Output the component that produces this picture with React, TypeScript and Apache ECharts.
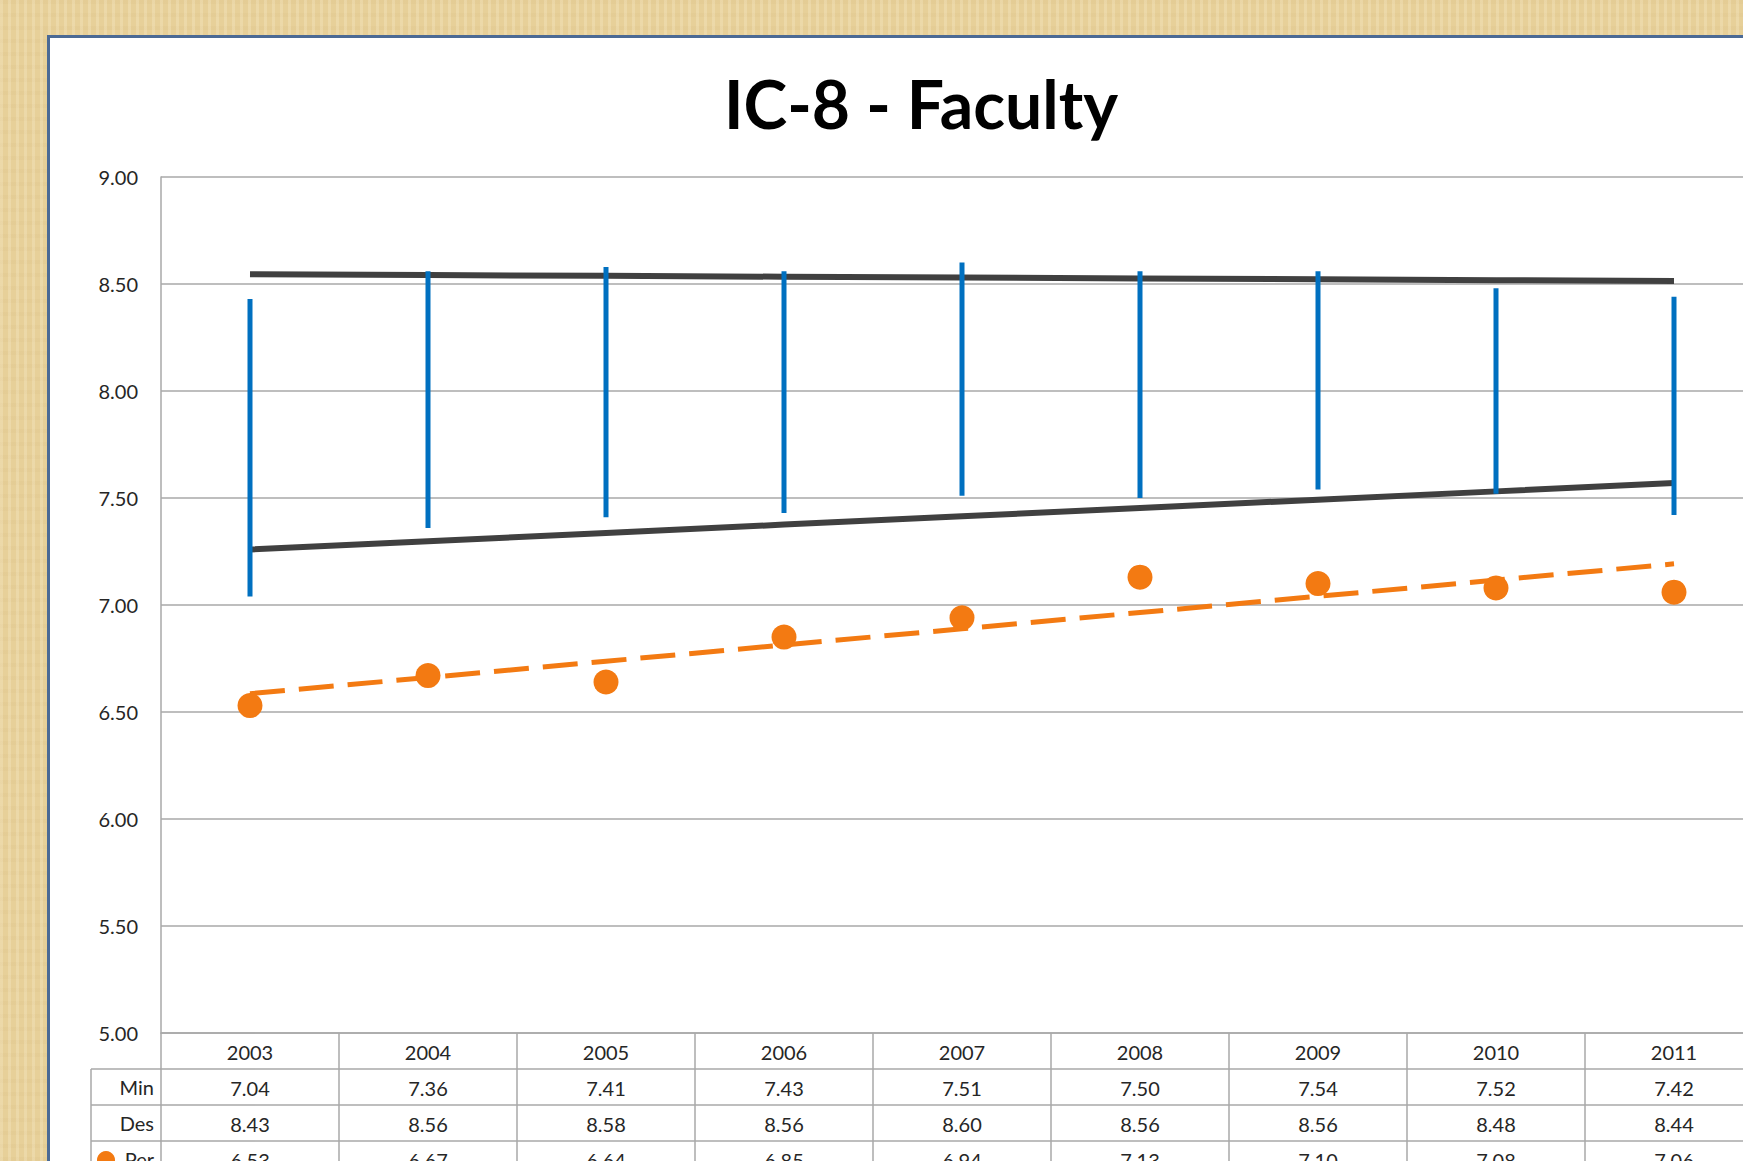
import React, { useEffect, useRef } from "react";
import * as echarts from "echarts";

const years = ["2003", "2004", "2005", "2006", "2007", "2008", "2009", "2010", "2011"];
const minVals = [7.04, 7.36, 7.41, 7.43, 7.51, 7.5, 7.54, 7.52, 7.42];
const desVals = [8.43, 8.56, 8.58, 8.56, 8.6, 8.56, 8.56, 8.48, 8.44];
const perVals = [6.53, 6.67, 6.64, 6.85, 6.94, 7.13, 7.1, 7.08, 7.06];
const rowNames = ["Min", "Des", "Per"];
const yMin = 5;
const yMax = 9;
const yStep = 0.5;
const titleText = "IC-8 - Faculty";

// least-squares linear trend (Excel-style trendline) of a series
function linearTrend(vals: number[]): number[] {
  const n = vals.length;
  const mx = (n - 1) / 2;
  const my = vals.reduce((a, b) => a + b, 0) / n;
  let sxy = 0;
  let sxx = 0;
  vals.forEach((v, i) => {
    sxy += (i - mx) * (v - my);
    sxx += (i - mx) * (i - mx);
  });
  const slope = sxy / sxx;
  return vals.map((_, i) => my + slope * (i - mx));
}

const FONT = "Lato";
const TEXT = "#262626";
const GRID = "#A8A8A8";
const ORANGE = "#F37A12";
const BLUE = "#0070C0";
const DARK = "#404040";

const GRID_LEFT = 161;
const GRID_TOP = 177;
const CAT_W = 178;
const PLOT_H = 856;
const ROW_H = 36;
const CHART_W = 1800;
const CHART_H = 1161;

function tableAxis(idx: number, fmt: (v: string, i: number) => string) {
  return {
    type: "category",
    data: years,
    position: "bottom",
    offset: idx * ROW_H,
    boundaryGap: true,
    axisLine: { show: true, onZero: false, lineStyle: { color: GRID, width: 1.5 } },
    axisTick: { show: true, interval: 0, length: ROW_H, lineStyle: { color: GRID, width: 1.5 } },
    axisLabel: {
      show: true,
      interval: 0,
      margin: 9,
      color: TEXT,
      fontFamily: FONT,
      fontSize: 20,
      formatter: fmt,
    },
    splitLine: { show: false },
  };
}

export default function App() {
  const ref = useRef<HTMLDivElement>(null);

  useEffect(() => {
    if (!ref.current) return;
    const chart = echarts.init(ref.current, null, { renderer: "svg" });
    const minTrend = linearTrend(minVals);
    const desTrend = linearTrend(desVals);
    const perTrend = linearTrend(perVals);
    const rowTop0 = GRID_TOP + PLOT_H + ROW_H;
    const rowVals = [minVals, desVals, perVals];

    const graphics: any[] = [
      {
        type: "text",
        x: 921,
        y: 103,
        style: {
          text: titleText,
          fontFamily: FONT,
          fontWeight: "bold",
          fontSize: 66,
          fill: "#000000",
          textAlign: "center",
          textVerticalAlign: "middle",
        },
      },
      {
        type: "line",
        shape: { x1: 91, y1: rowTop0, x2: 91, y2: CHART_H + 10 },
        style: { stroke: GRID, lineWidth: 1.5 },
      },
    ];
    rowNames.forEach((name, r) => {
      const top = rowTop0 + r * ROW_H;
      graphics.push({
        type: "line",
        shape: { x1: 91, y1: top, x2: GRID_LEFT, y2: top },
        style: { stroke: GRID, lineWidth: 1.5 },
      });
      graphics.push({
        type: "text",
        x: 154,
        y: top + ROW_H / 2,
        style: {
          text: name,
          fontFamily: FONT,
          fontSize: 20,
          fill: TEXT,
          textAlign: "right",
          textVerticalAlign: "middle",
        },
      });
    });
    graphics.push({
      type: "circle",
      shape: { cx: 106, cy: rowTop0 + 2 * ROW_H + 19, r: 9 },
      style: { fill: ORANGE },
    });

    chart.setOption({
      animation: false,
      backgroundColor: "transparent",
      grid: {
        left: GRID_LEFT,
        top: GRID_TOP,
        width: CAT_W * years.length,
        height: PLOT_H,
        containLabel: false,
        outerBoundsMode: "none",
      },
      xAxis: [
        tableAxis(0, (v: string) => v),
        ...rowVals.map((vals, r) => tableAxis(r + 1, (_v: string, i: number) => vals[i].toFixed(2))),
      ],
      yAxis: {
        type: "value",
        min: yMin,
        max: yMax,
        interval: yStep,
        axisLine: { show: true, lineStyle: { color: GRID, width: 1.5 } },
        axisTick: { show: false },
        axisLabel: {
          margin: 23,
          color: TEXT,
          fontFamily: FONT,
          fontSize: 20,
          formatter: (v: number) => v.toFixed(2),
        },
        splitLine: { show: true, lineStyle: { color: GRID, width: 1.5 } },
      },
      graphic: graphics,
      series: [
        {
          name: "Des trend",
          type: "line",
          data: desTrend,
          symbol: "none",
          lineStyle: { color: DARK, width: 6 },
          z: 2,
        },
        {
          name: "Min trend",
          type: "line",
          data: minTrend,
          symbol: "none",
          lineStyle: { color: DARK, width: 6 },
          z: 2,
        },
        {
          name: "Range",
          type: "custom",
          data: years.map((_, i) => [i, minVals[i], desVals[i]]),
          encode: { x: 0, y: [1, 2] },
          renderItem: (_params: any, api: any) => {
            const i = api.value(0);
            const p1 = api.coord([i, api.value(1)]);
            const p2 = api.coord([i, api.value(2)]);
            return {
              type: "line",
              shape: { x1: p1[0], y1: p1[1], x2: p2[0], y2: p2[1] },
              style: { stroke: BLUE, lineWidth: 5 },
            };
          },
          z: 3,
        },
        {
          name: "Per trend",
          type: "line",
          data: perTrend,
          symbol: "none",
          lineStyle: { color: ORANGE, width: 5, type: [35, 14] },
          z: 4,
        },
        {
          name: "Per",
          type: "scatter",
          data: perVals,
          symbol: "circle",
          symbolSize: 25,
          itemStyle: { color: ORANGE, opacity: 1 },
          z: 5,
        },
      ],
    });
    return () => chart.dispose();
  }, []);

  const texture =
    "repeating-linear-gradient(90deg, rgba(255,248,225,0.22) 0px, rgba(255,248,225,0.22) 3px, rgba(0,0,0,0) 3px, rgba(0,0,0,0) 8px), " +
    "repeating-linear-gradient(0deg, rgba(160,120,55,0.04) 0px, rgba(160,120,55,0.04) 4px, rgba(0,0,0,0) 4px, rgba(0,0,0,0) 13px), " +
    "#E7D099";

  return (
    <div
      style={{
        position: "absolute",
        left: 0,
        top: 0,
        width: 1743,
        height: 1161,
        overflow: "hidden",
        background: texture,
      }}
    >
      <div
        style={{
          position: "absolute",
          left: 47,
          top: 35,
          width: 1900,
          height: 1300,
          boxSizing: "border-box",
          background: "#FFFFFF",
          borderLeft: "3px solid #4B6A95",
          borderTop: "3px solid #4B6A95",
        }}
      />
      <div ref={ref} style={{ position: "absolute", left: 0, top: 0, width: CHART_W, height: CHART_H }} />
    </div>
  );
}
